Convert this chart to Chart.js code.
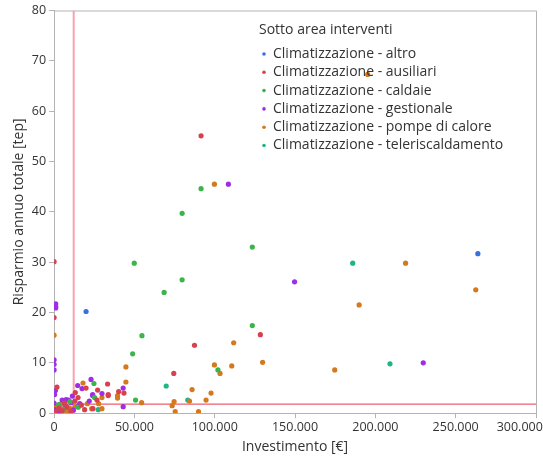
<!DOCTYPE html>
<html>
<head>
<meta charset="utf-8">
<script src="https://cdn.jsdelivr.net/npm/chart.js@4"></script>
<style>
  html, body { margin: 0; padding: 0; background: #fff; overflow: hidden; }
  #wrap { width: 543px; height: 457px; }
</style>
</head>
<body>
<div id="wrap"><canvas id="c"></canvas></div>
<script>
// valori: [investimento €, risparmio tep]
const altro = [[19900, 20.2], [263800, 31.7]];
const ausiliari = [
  [91500, 55.1], [0, 30.1], [0, 19.0], [128400, 15.6], [87400, 13.5], [74500, 7.9],
  [33300, 5.8], [33700, 3.7], [33700, 3.5], [40200, 4.3], [43500, 4.0], [27100, 4.6],
  [19900, 5.0], [14900, 3.1], [13200, 4.1], [1800, 5.2], [13000, 2.4], [19000, 0.7],
  [24200, 0.9], [26700, 2.6], [8000, 1.2], [5000, 0.5], [3000, 1.0], [10500, 0.4],
  [17000, 1.6], [6500, 2.0], [1000, 0.3]
];
const caldaie = [
  [91500, 44.6], [79700, 39.7], [49900, 29.8], [68500, 24.0], [79700, 26.5], [123400, 33.0],
  [123400, 17.4], [54700, 15.4], [48900, 11.8], [102000, 8.6], [50700, 2.6], [24800, 5.9],
  [25200, 3.1], [2900, 1.7], [9900, 2.3], [6000, 0.8], [15000, 1.2]
];
const gestionale = [
  [108500, 45.5], [149700, 26.1], [229800, 10.0], [1000, 21.7], [1000, 21.2], [1000, 20.9],
  [0, 10.6], [0, 9.7], [0, 8.6], [43000, 5.0], [43000, 1.3], [29800, 3.9], [23000, 6.7],
  [24000, 3.7], [24000, 3.5], [17400, 4.9], [14700, 5.5], [11400, 3.4], [800, 4.5],
  [300, 3.7], [0, 2.0], [0, 0.7], [5000, 2.6], [7500, 2.7], [9000, 2.6], [10600, 2.1],
  [15300, 1.5], [16000, 1.9], [21900, 2.4], [3000, 0.3], [7000, 1.5], [12000, 0.6]
];
const pompeDiCalore = [
  [195200, 67.3], [99800, 45.5], [218800, 29.8], [262500, 24.5], [189900, 21.5], [174700, 8.6],
  [0, 15.5], [111800, 14.0], [110600, 9.4], [129800, 10.1], [99800, 9.6], [103300, 7.9],
  [85900, 4.7], [97700, 4.0], [94600, 2.6], [84300, 2.4], [54500, 2.1], [73500, 1.5],
  [74700, 2.3], [75400, 0.3], [89900, 0.3], [44700, 9.2], [44700, 6.2], [39500, 3.5],
  [39500, 3.0], [29800, 3.1], [18000, 6.0], [13000, 1.3], [20700, 1.9], [23400, 0.9],
  [29800, 0.9], [27700, 1.9], [2000, 0.5], [3500, 1.2], [5000, 0.2], [6500, 0.9],
  [8000, 0.4], [9500, 1.0], [4000, 1.8], [1000, 1.5], [11000, 0.8], [0, 0.9]
];
const teleriscaldamento = [[185900, 29.8], [209100, 9.8], [69800, 5.4], [83200, 2.6], [27500, 0.7], [10000, 0.5]];

const serie = [
  { label: "Climatizzazione - altro", data: altro, color: "#3b6fdc" },
  { label: "Climatizzazione - ausiliari", data: ausiliari, color: "#d9404f" },
  { label: "Climatizzazione - caldaie", data: caldaie, color: "#3cb44b" },
  { label: "Climatizzazione - gestionale", data: gestionale, color: "#9d2ee6" },
  { label: "Climatizzazione - pompe di calore", data: pompeDiCalore, color: "#d5791f" },
  { label: "Climatizzazione - teleriscaldamento", data: teleriscaldamento, color: "#1fb585" },
];

// linee di riferimento (medie)
const mediaInvestimento = 12200;
const mediaRisparmio = 1.8;
const xTicks = [0, 50000, 100000, 150000, 200000, 250000, 300000];

const FONT = "'Open Sans', sans-serif";
const TEXT = "#333333";
const AXIS = "#b4b4b4";

const legendaInterna = {
  id: "legendaInterna",
  afterDraw(chart) {
    const ctx = chart.ctx;
    ctx.save();
    ctx.textBaseline = "middle";
    ctx.fillStyle = TEXT;
    ctx.font = "14px " + FONT;
    ctx.fillText("Sotto area interventi", 259, 30);
    serie.forEach((s, i) => {
      const y = 54 + i * 18.3;
      ctx.beginPath();
      ctx.fillStyle = s.color;
      ctx.arc(264, y, 1.8, 0, Math.PI * 2);
      ctx.fill();
      ctx.fillStyle = TEXT;
      ctx.fillText(s.label, 273, y);
    });
    ctx.restore();
  },
};

const cornice = {
  id: "cornice",
  beforeDatasetsDraw(chart) {
    const { ctx, chartArea: a } = chart;
    ctx.save();
    ctx.strokeStyle = AXIS;
    ctx.lineWidth = 1;
    ctx.beginPath();
    ctx.moveTo(a.left, a.top + 0.5);
    ctx.lineTo(a.right + 0.5, a.top + 0.5);
    ctx.lineTo(a.right + 0.5, a.bottom);
    ctx.stroke();
    ctx.restore();
  },
};

const datasets = serie.map((s) => ({
  type: "scatter",
  label: s.label,
  data: s.data.map((p) => ({ x: p[0], y: p[1] })),
  backgroundColor: s.color,
  borderWidth: 0,
  pointRadius: 2.6,
  order: 1,
}));

datasets.push({
  type: "line",
  label: "mediaX",
  data: [{ x: mediaInvestimento, y: 0 }, { x: mediaInvestimento, y: 80 }],
  borderColor: "#f7a3b0",
  borderWidth: 2,
  pointRadius: 0,
  order: 5,
});
datasets.push({
  type: "line",
  label: "mediaY",
  data: [{ x: 0, y: mediaRisparmio }, { x: 300000, y: mediaRisparmio }],
  borderColor: "#ee5c6e",
  borderWidth: 1.2,
  pointRadius: 0,
  order: 5,
});

Chart.defaults.font.family = FONT;
Chart.defaults.color = TEXT;

new Chart(document.getElementById("c"), {
  type: "scatter",
  data: { datasets },
  plugins: [cornice, legendaInterna],
  options: {
    responsive: true,
    maintainAspectRatio: false,
    animation: false,
    layout: { padding: { top: 7, right: 0, left: 11, bottom: 2 } },
    plugins: { legend: { display: false }, tooltip: { enabled: false } },
    scales: {
      x: {
        type: "linear",
        min: 0,
        max: 300000,
        afterBuildTicks(scale) {
          scale.ticks = xTicks.map((v) => ({ value: v }));
        },
        afterFit(scale) {
          // l'ultima etichetta va oltre il bordo, come nell'originale
          scale.paddingRight = 7;
        },
        ticks: {
          font: { size: 12.5 },
          color: TEXT,
          maxRotation: 0,
          autoSkip: false,
          padding: 2,
          callback: (v) => {
            const s = v.toLocaleString("it-IT");
            return v === 300000 ? s + "\u00a0".repeat(10) : s;
          },
        },
        grid: { drawOnChartArea: false, drawTicks: true, tickLength: 5, color: AXIS },
        border: { color: AXIS },
        title: { display: true, text: "Investimento [€]", font: { size: 14 }, color: TEXT, padding: { top: 1, bottom: 0 } },
      },
      y: {
        min: 0,
        max: 80,
        ticks: { stepSize: 10, font: { size: 12.5 }, color: TEXT, padding: 3 },
        grid: { drawOnChartArea: false, drawTicks: true, tickLength: 5, color: AXIS },
        border: { color: AXIS },
        title: { display: true, text: "Risparmio annuo totale [tep]", font: { size: 14 }, color: TEXT, padding: { top: 0, bottom: 1 } },
      },
    },
  },
});
</script>
</body>
</html>
